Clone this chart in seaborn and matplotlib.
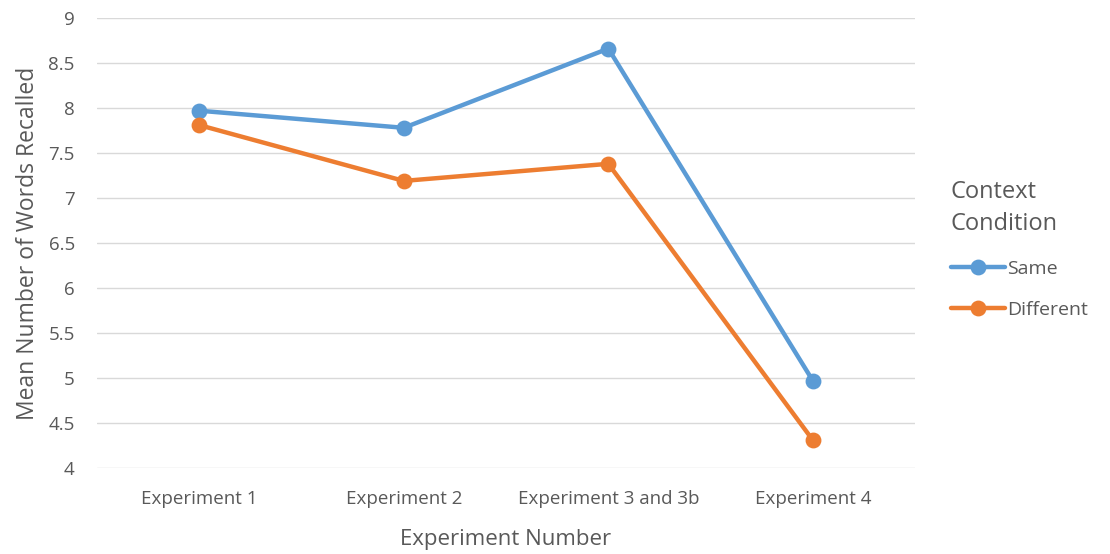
import pandas as pd
import matplotlib.pyplot as plt
import seaborn as sns

# values
experiments = ["Experiment 1", "Experiment 2", "Experiment 3 and 3b", "Experiment 4"]
same = [7.97, 7.78, 8.66, 4.97]
different = [7.81, 7.19, 7.38, 4.31]
conditions = ["Same", "Different"]
colors = ["#5B9BD5", "#ED7D31"]

df = pd.DataFrame({
    "Experiment": experiments * 2,
    "Recalled": same + different,
    "Condition": [conditions[0]] * 4 + [conditions[1]] * 4,
})

sns.set_theme(style="white")
plt.rcParams["font.family"] = ["Open Sans", "DejaVu Sans"]
grey = "#595959"

fig = plt.figure(figsize=(11.1, 5.54), dpi=100)
ax = fig.add_axes([0.0874, 0.1552, 0.737, 0.8123])

sns.pointplot(data=df, x="Experiment", y="Recalled", hue="Condition",
              palette=colors, order=experiments, hue_order=conditions,
              markers="o", markersize=9, linewidth=3.2, errorbar=None, ax=ax)

ax.set_ylim(4, 9)
ax.set_yticks([4, 4.5, 5, 5.5, 6, 6.5, 7, 7.5, 8, 8.5, 9])
ax.set_yticklabels(["4", "4.5", "5", "5.5", "6", "6.5", "7", "7.5", "8", "8.5", "9"])
ax.set_xlim(-0.5, 3.5)
ax.yaxis.grid(True, color="#D9D9D9", linewidth=1)
ax.set_axisbelow(True)
for s in ax.spines.values():
    s.set_visible(False)
ax.tick_params(axis="both", length=0, labelsize=13.5, colors=grey)
ax.tick_params(axis="x", pad=16)
ax.tick_params(axis="y", pad=16)

ax.set_xlabel("Experiment Number", fontsize=16, color=grey, labelpad=15)
ax.set_ylabel("Mean Number of Words Recalled", fontsize=16.5, color=grey, labelpad=6)

leg = ax.legend(title="Context\nCondition", loc="center left", bbox_to_anchor=(1.022, 0.485),
                frameon=False, fontsize=14, title_fontsize=17, handlelength=2.8,
                handletextpad=0.1, labelspacing=1.2)
leg._legend_box.align = "left"
leg.get_title().set_color(grey)
leg.get_title().set_linespacing(1.45)
for t in leg.get_texts():
    t.set_color(grey)

fig.savefig("out.png", dpi=100)
